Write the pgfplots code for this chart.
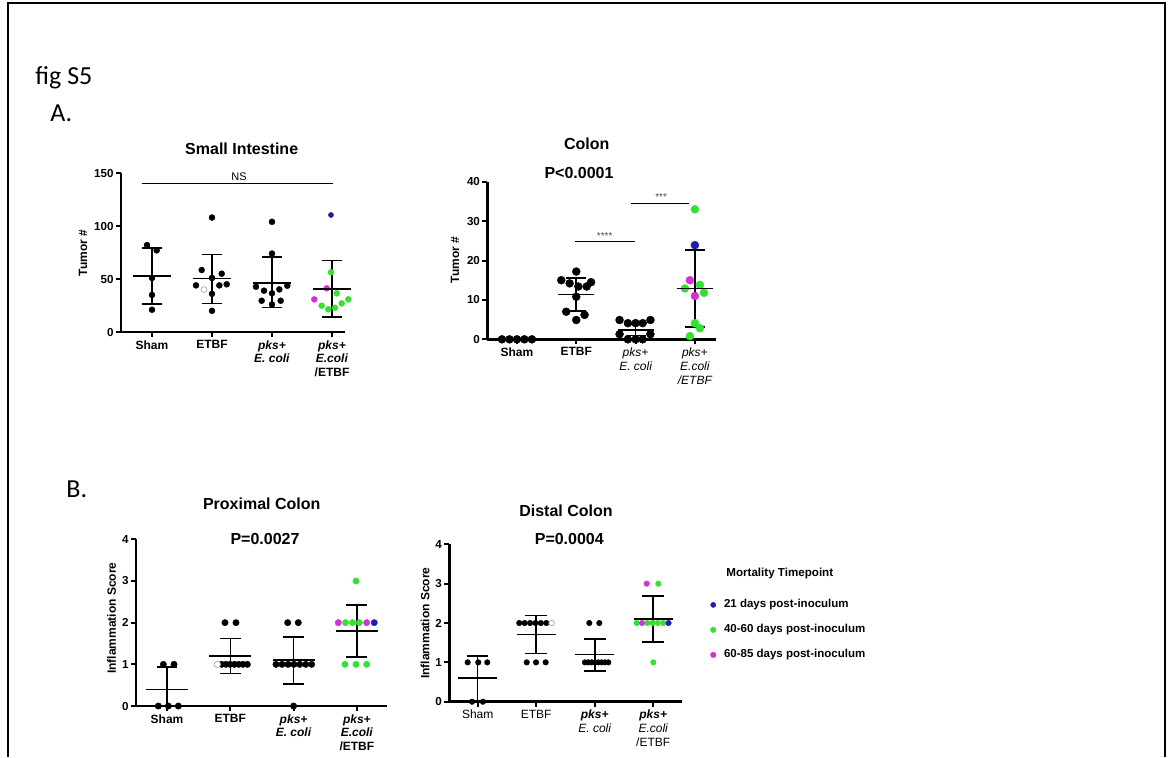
\documentclass[border=0pt]{standalone}
\usepackage{pgfplots}
\pgfplotsset{compat=1.18}
\usepackage{fontspec}
\setmainfont{Liberation Sans}
\newfontfamily\calibri{Carlito}
\definecolor{cblue}{RGB}{30,30,170}
\definecolor{cgreen}{RGB}{50,225,50}
\definecolor{cmag}{RGB}{210,50,210}
\newcommand\tickf{\fontsize{5.8}{6.2}\selectfont\bfseries}
\newcommand\xlf{\fontsize{6}{6.9}\selectfont\bfseries}
\newcommand\ttl{\fontsize{8}{9}\selectfont\bfseries}
\newcommand\ylf{\fontsize{6}{7}\selectfont\bfseries}
\pgfplotsset{
  prism/.style={
    scale only axis, anchor=south west,
    axis lines=left, axis line style={line width=1.3pt,-},
    tick align=outside, major tick length=2.5pt,
    tick style={line width=1pt,black},
    xtick={1,2,3,4}, clip=false,
    yticklabel style={font=\tickf, inner sep=1pt},
    xticklabel style={font=\xlf, align=center, inner sep=1.5pt},
    /pgf/number format/assume math mode=true,
  },
  pts/.style n args={2}{only marks, mark=*, mark size=#1, mark options={draw=#2, fill=#2, line width=0.2pt}},
  msd/.style n args={2}{only marks, mark=-, mark size=#1, mark options={line width=0.8pt, black},
     error bars/.cd, y dir=both, y explicit, error bar style={line width=0.8pt, black},
     error mark options={rotate=90, mark size=#2, line width=0.8pt, black}},
}
\begin{document}
\begin{tikzpicture}
\begin{scope}[x=0.5pt,y=-0.5pt]
\useasboundingbox (0,0) rectangle (1171,757);
\draw[line width=1pt] (8,757) -- (8,3) -- (1165,3) -- (1165,757);
\node[anchor=base west, inner sep=0pt] at (35,84) {\calibri\fontsize{13}{15}\selectfont fig S5};
\node[anchor=base west, inner sep=0pt] at (50,121) {\calibri\fontsize{13}{15}\selectfont A.};
\node[anchor=base west, inner sep=0pt] at (66,497) {\calibri\fontsize{13}{15}\selectfont B.};
% titles
\node at (241.7,149) {\ttl Small Intestine};
\node at (586.7,143.3) {\ttl Colon};
\node at (579,173.3) {\ttl P<0.0001};
\node at (261.7,503.3) {\ttl Proximal Colon};
\node at (265,539.3) {\ttl P=0.0027};
\node at (566,511) {\ttl Distal Colon};
\node at (569.3,539.3) {\ttl P=0.0004};
% y labels
\node[rotate=90] at (83,253) {\ylf Tumor \#};
\node[rotate=90] at (455,260) {\ylf Tumor \#};
\node[rotate=90] at (111.7,618.3) {\ylf Inflammation Score};
\node[rotate=90] at (425,623.3) {\ylf Inflammation Score};
\node[anchor=west, inner sep=0pt] at (726,573.3) {\fontsize{5.8}{6.5}\selectfont\bfseries Mortality Timepoint};
\end{scope}

% ---------------- Small Intestine
\begin{axis}[prism, at={(60.5pt,-166pt)}, width=112pt, height=79.5pt,
  xmin=0.4833, xmax=4.2167, ymin=0, ymax=150, ytick={0,50,100,150},
  xticklabels={Sham, ETBF, {\textit{pks+}\\\textit{E. coli}}, {\textit{pks+}\\\textit{E.coli}\\/ETBF}}]
\addplot[pts={1.5pt}{black}] coordinates {
 (0.917,82) (1.078,77) (1,51) (1,35) (1,21)
 (2,108) (1.828,58.5) (2.162,55) (2,51) (1.733,44) (2.122,44) (2.245,45) (2,36) (2,20)
 (3,104) (3,74) (2.733,42.7) (2.867,39) (3,36.5) (3.122,40.2) (3.255,43.7) (2.828,29.5) (3,26) (3.145,29.5)};
\addplot[only marks, mark=*, mark size=1.5pt, mark options={draw=gray!60, fill=white, line width=0.4pt}] coordinates {(1.867,40)};
\addplot[pts={1.3pt}{cblue}] coordinates {(3.983,110.4)};
\addplot[pts={1.5pt}{cgreen}] coordinates {(3.983,56.3) (4.078,36.5) (3.828,24.8) (3.938,21.4) (4.05,22.9) (4.162,27) (4.272,30.8)};
\addplot[pts={1.5pt}{cmag}] coordinates {(3.912,41.2) (3.705,30.8)};
\addplot[msd={9.5pt}{5pt}] coordinates {(1,53) +- (0,26.5) (2,50.6) += (0,22.7) -= (0,23.6) (3,46.5) += (0,24.5) -= (0,23.5) (4,40.6) +- (0,26.7)};
\draw[line width=0.6pt] (axis cs:0.828,140) -- (axis cs:4.017,140);
\node[font=\fontsize{5.5}{6}\selectfont, above, inner sep=1.5pt] at (axis cs:2.45,140) {NS};
\end{axis}

% ---------------- Colon
\begin{axis}[prism, at={(243.65pt,-169.65pt)}, width=114.35pt, height=78.8pt,
  xmin=0.5, xmax=4.356, ymin=0, ymax=40, ytick={0,10,20,30,40},
  xticklabels={Sham, ETBF, {\mdseries\itshape pks+\\\mdseries\itshape E. coli}, {\mdseries\itshape pks+\\\mdseries\itshape E.coli\\\mdseries\itshape /ETBF}}]
\addplot[pts={2pt}{black}] coordinates {
 (0.747,0) (0.874,0) (1,0) (1.126,0) (1.252,0)
 (2,17.2) (1.747,15) (1.888,14.2) (2.035,13.4) (2.175,13.4) (2.25,14.5) (2,10.8) (1.83,7.0) (2.14,6.2) (2,4.9)
 (2.73,4.9) (2.87,4.1) (3,4.1) (3.12,4.1) (3.25,4.9) (2.73,1.3) (2.87,0) (3,0) (3.12,0) (3.25,1.3)};
\addplot[pts={2pt}{cblue}] coordinates {(4,23.9)};
\addplot[pts={2pt}{cgreen}] coordinates {(4,33) (4.084,13.8) (3.831,12.9) (4.152,11.8) (4,4.1) (4.084,2.8) (3.916,0.8)};
\addplot[pts={2pt}{cmag}] coordinates {(3.916,15) (4,11)};
\addplot[msd={9pt}{5pt}] coordinates {(2,11.4) +- (0,4.2) (3,2.4) +- (0,1.4) (4,12.9) += (0,9.8) -= (0,9.7)};
\draw[line width=0.5pt] (axis cs:1.978,24.8) -- (axis cs:2.99,24.8);
\node[font=\fontsize{5}{6}\selectfont, text=black!70, above, inner sep=1pt] at (axis cs:2.48,24.8) {****};
\draw[line width=0.5pt] (axis cs:2.917,34.5) -- (axis cs:3.906,34.5);
\node[font=\fontsize{5}{6}\selectfont, text=black!70, above, inner sep=1pt] at (axis cs:3.43,34.5) {***};
\end{axis}

% ---------------- Proximal Colon
\begin{axis}[prism, at={(68pt,-353pt)}, width=125.5pt, height=83.35pt,
  xmin=0.51, xmax=4.476, ymin=0, ymax=4, ytick={0,1,2,3,4},
  xticklabels={Sham, ETBF, {\textit{pks+}\\\textit{E. coli}}, {\textit{pks+}\\\textit{E.coli}\\/ETBF}}]
\addplot[pts={1.6pt}{black}] coordinates {
 (0.942,1) (1.111,1) (0.863,0) (1.021,0) (1.179,0)
 (1.916,2) (2.09,2) (1.863,1) (1.931,1) (1.998,1) (2.066,1) (2.134,1) (2.202,1) (2.27,1)
 (2.907,2) (3.074,2) (2.722,1) (2.817,1) (2.912,1) (3.005,1) (3.098,1) (3.193,1) (3.286,1) (3,0)};
\addplot[only marks, mark=*, mark size=1.6pt, mark options={draw=gray!60, fill=white, line width=0.4pt}] coordinates {(1.795,1)};
\addplot[pts={1.6pt}{cgreen}] coordinates {(3.986,3) (3.82,2) (3.93,2) (4.04,2) (3.812,1) (3.986,1) (4.155,1)};
\addplot[pts={1.6pt}{cblue}] coordinates {(4.275,2)};
\addplot[pts={1.6pt}{cmag}] coordinates {(3.706,2) (4.155,2)};
\addplot[msd={10.5pt}{5.2pt}] coordinates {(1,0.4) += (0,0.54) -= (0,0.4) (2,1.2) +- (0,0.42) (3,1.1) += (0,0.55) -= (0,0.57) (4,1.8) +- (0,0.63)};
\end{axis}

% ---------------- Distal Colon
\begin{axis}[prism, at={(224.65pt,-350.85pt)}, width=116.2pt, height=78.7pt,
  xmin=0.515, xmax=4.487, ymin=0, ymax=4, ytick={0,1,2,3,4},
  xticklabels={{\mdseries Sham}, {\mdseries ETBF}, {\textit{pks+}\\\mdseries\itshape E. coli}, {\textit{pks+}\\\mdseries\itshape E.coli\\\mdseries /ETBF}},
  legend style={at={(axis description cs:1.122,0.659)}, anchor=north west, draw=none, fill=none, inner sep=0pt,
    font=\fontsize{5.75}{6.5}\selectfont\bfseries, row sep=6pt,
    nodes={inner sep=0.5pt, text height=4.3pt, text depth=1.2pt},
    /tikz/every odd column/.append style={column sep=3.5pt}},
  legend cell align=left,
  legend image code/.code={\draw[#1] plot coordinates {(0pt,0pt)};}]
\addplot[forget plot, pts={1.4pt}{black}] coordinates {
 (0.829,1) (1.01,1) (1.164,1) (0.903,0) (1.09,0)
 (1.711,2) (1.803,2) (1.896,2) (1.988,2) (2.08,2) (2.173,2) (1.838,1) (1.997,1) (2.162,1)
 (2.908,2) (3.079,2) (2.834,1) (2.891,1) (2.949,1) (3.005,1) (3.062,1) (3.118,1) (3.176,1) (3.232,1)};
\addplot[forget plot, only marks, mark=*, mark size=1.4pt, mark options={draw=gray!60, fill=white, line width=0.4pt}] coordinates {(2.265,2)};
\addplot[forget plot, pts={1.4pt}{cgreen}] coordinates {(4.087,3) (3.718,2) (3.899,2) (3.99,2) (4.08,2) (4.171,2) (4.002,1)};
\addplot[forget plot, pts={1.4pt}{cblue}] coordinates {(4.262,2)};
\addplot[forget plot, pts={1.4pt}{cmag}] coordinates {(3.889,3) (3.809,2)};
\addplot[forget plot, msd={9.75pt}{5.4pt}] coordinates {(1,0.6) += (0,0.56) -= (0,0.6) (2,1.71) +- (0,0.48) (3,1.2) += (0,0.4) -= (0,0.42) (4,2.1) +- (0,0.58)};
\addlegendimage{pts={1.3pt}{cblue}}
\addlegendentry{21 days post-inoculum}
\addlegendimage{pts={1.4pt}{cgreen}}
\addlegendentry{40-60 days post-inoculum}
\addlegendimage{pts={1.4pt}{cmag}}
\addlegendentry{60-85 days post-inoculum}
\end{axis}
\end{tikzpicture}
\end{document}
